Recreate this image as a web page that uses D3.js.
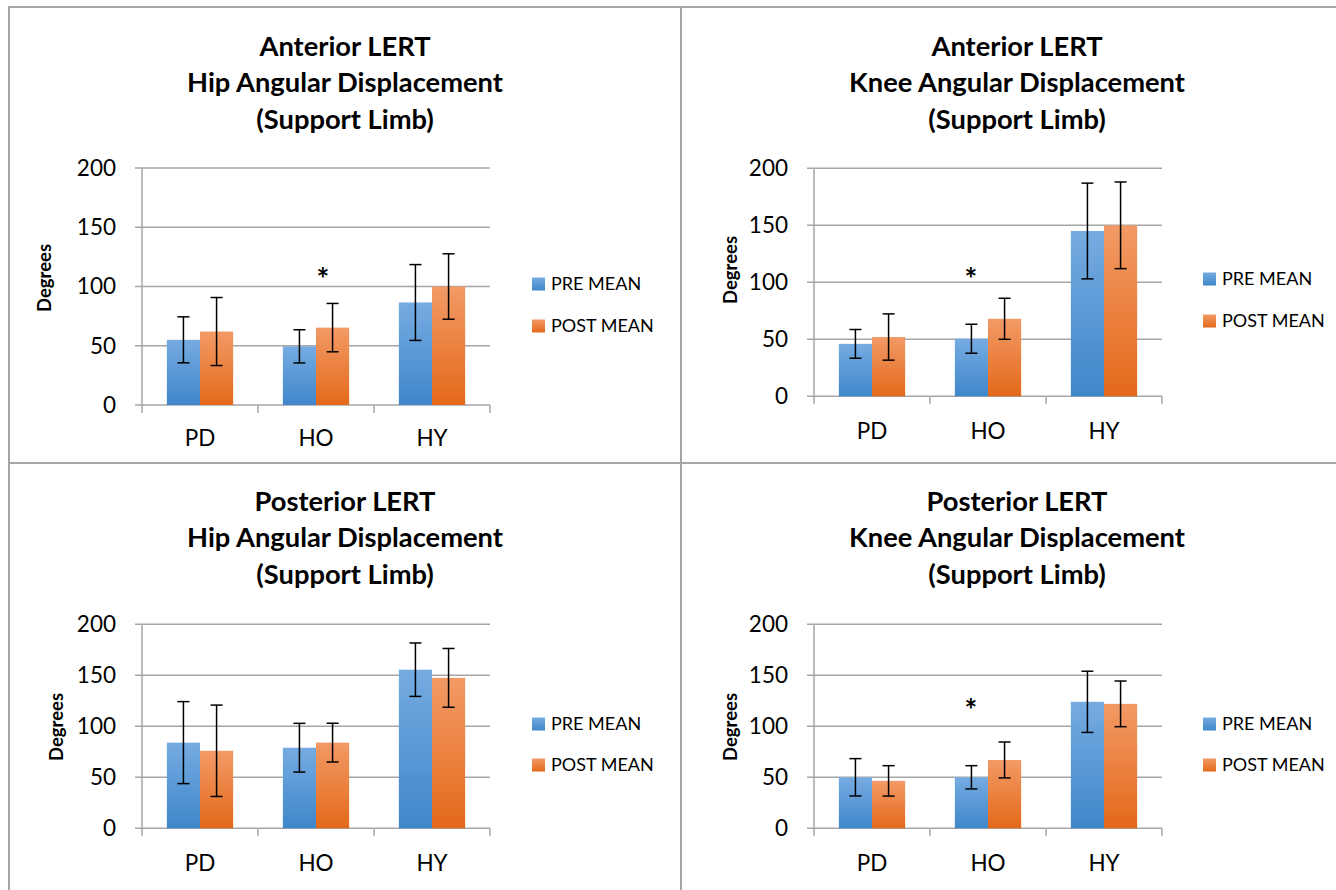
<!DOCTYPE html>
<html>
<head>
<meta charset="utf-8">
<script src="https://cdn.jsdelivr.net/npm/d3@7"></script>
<style>
  body { margin: 0; background: #fff; }
  svg { display: block; font-family: Lato, "Open Sans", sans-serif; }
</style>
</head>
<body>
<svg id="chart" width="1336" height="890"></svg>
<script>
// data
const categories = ["PD", "HO", "HY"];
const seriesNames = ["PRE MEAN", "POST MEAN"];
const yTicks = [0, 50, 100, 150, 200];

const antHipTitle = ["Anterior LERT", "Hip Angular Displacement", "(Support Limb)"];
const antHipPre = [55, 49.5, 86.5];
const antHipPreErr = [19.4, 14, 32];
const antHipPost = [62, 65.3, 100];
const antHipPostErr = [28.7, 20.4, 27.6];
const antHipStar = 113;

const antKneeTitle = ["Anterior LERT", "Knee Angular Displacement", "(Support Limb)"];
const antKneePre = [46, 50.5, 145];
const antKneePreErr = [12.6, 12.7, 42];
const antKneePost = [52, 68, 150];
const antKneePostErr = [20.3, 18, 38];
const antKneeStar = 110;

const postHipTitle = ["Posterior LERT", "Hip Angular Displacement", "(Support Limb)"];
const postHipPre = [84, 79, 155.5];
const postHipPreErr = [40.2, 23.9, 26.2];
const postHipPost = [76, 84, 147.5];
const postHipPostErr = [44.8, 19, 28.8];
const postHipStar = null;

const postKneeTitle = ["Posterior LERT", "Knee Angular Displacement", "(Support Limb)"];
const postKneePre = [50, 50, 124];
const postKneePreErr = [18.3, 11.4, 30];
const postKneePost = [46.5, 67, 122];
const postKneePostErr = [14.9, 17.6, 22.4];
const postKneeStar = 123;

const GRID = "#a6a6a6";
const svg = d3.select("#chart");

// gradient fills like the Excel bars
const defs = svg.append("defs");
[["blueGrad", "#76abe1", "#3f87ca"], ["orangeGrad", "#f29a66", "#e4691a"]].forEach(([id, top, bottom]) => {
  const g = defs.append("linearGradient").attr("id", id)
    .attr("x1", 0).attr("y1", 0).attr("x2", 0).attr("y2", 1);
  g.append("stop").attr("offset", "0%").attr("stop-color", top);
  g.append("stop").attr("offset", "100%").attr("stop-color", bottom);
});
const fills = ["url(#blueGrad)", "url(#orangeGrad)"];

// panel frame lines
svg.append("line").attr("x1", 9).attr("x2", 9).attr("y1", 7).attr("y2", 890)
  .attr("stroke", GRID).attr("stroke-width", 2);
svg.append("line").attr("x1", 8).attr("x2", 1336).attr("y1", 7).attr("y2", 7)
  .attr("stroke", GRID).attr("stroke-width", 2);
svg.append("line").attr("x1", 681).attr("x2", 681).attr("y1", 7).attr("y2", 890)
  .attr("stroke", GRID).attr("stroke-width", 2);
svg.append("line").attr("x1", 8).attr("x2", 1336).attr("y1", 463).attr("y2", 463)
  .attr("stroke", GRID).attr("stroke-width", 2);

const panels = [
  { title: antHipTitle, pre: antHipPre, preErr: antHipPreErr, post: antHipPost, postErr: antHipPostErr, star: antHipStar,
    titleX: 345, titleY: 46, x0: 142, x1: 490, yTop: 168, yBottom: 405, ylabX: 45, ylabY: 278,
    catY: 438, legX: 532, legY: [284, 326], starDx: 7 },
  { title: antKneeTitle, pre: antKneePre, preErr: antKneePreErr, post: antKneePost, postErr: antKneePostErr, star: antKneeStar,
    titleX: 1017, titleY: 46, x0: 814, x1: 1162, yTop: 168.3, yBottom: 396.3, ylabX: 731, ylabY: 270,
    catY: 431, legX: 1203, legY: [279, 321], starDx: -17 },
  { title: postHipTitle, pre: postHipPre, preErr: postHipPreErr, post: postHipPost, postErr: postHipPostErr, star: postHipStar,
    titleX: 345, titleY: 501, x0: 142, x1: 490, yTop: 624.3, yBottom: 828.3, ylabX: 57, ylabY: 727,
    catY: 863, legX: 532, legY: [724, 765], starDx: 0 },
  { title: postKneeTitle, pre: postKneePre, preErr: postKneePreErr, post: postKneePost, postErr: postKneePostErr, star: postKneeStar,
    titleX: 1017, titleY: 501, x0: 814, x1: 1162, yTop: 624.3, yBottom: 828.3, ylabX: 731, ylabY: 727,
    catY: 863, legX: 1203, legY: [724, 765], starDx: -17 }
];

panels.forEach(drawPanel);

function drawPanel(p) {
  const g = svg.append("g");

  // title, three lines
  g.append("text")
    .attr("x", p.titleX).attr("y", p.titleY)
    .attr("text-anchor", "middle").attr("font-weight", "bold").attr("font-size", 27.3)
    .attr("fill", "#000")
    .selectAll("tspan").data(p.title).enter().append("tspan")
    .attr("x", p.titleX).attr("dy", (d, i) => i === 0 ? "0.35em" : 36.5)
    .text(d => d);

  const x = d3.scaleBand().domain(categories).range([p.x0, p.x1]);
  const barW = x.bandwidth() / 3.5;
  const xs = d3.scaleBand().domain(seriesNames)
    .range([barW * 0.75, barW * 2.75]);
  const y = d3.scaleLinear().domain([0, 200]).range([p.yBottom, p.yTop]);

  // gridlines
  g.selectAll(".grid").data(yTicks).enter().append("line")
    .attr("x1", p.x0 - 7).attr("x2", p.x1)
    .attr("y1", d => y(d)).attr("y2", d => y(d))
    .attr("stroke", GRID).attr("stroke-width", 1.5);

  // y axis line and labels
  g.append("line").attr("x1", p.x0).attr("x2", p.x0)
    .attr("y1", p.yTop).attr("y2", p.yBottom)
    .attr("stroke", GRID).attr("stroke-width", 1.5);
  g.selectAll(".ytick").data(yTicks).enter().append("text")
    .attr("x", p.x0 - 26).attr("y", d => y(d)).attr("dy", "0.35em")
    .attr("text-anchor", "end").attr("font-size", 22.5).attr("fill", "#000")
    .text(d => d);

  // x axis tick marks on the category boundaries
  const bounds = categories.map(c => x(c)).concat([p.x1]);
  g.selectAll(".xtick").data(bounds).enter().append("line")
    .attr("x1", d => d).attr("x2", d => d)
    .attr("y1", p.yBottom).attr("y2", p.yBottom + 8)
    .attr("stroke", GRID).attr("stroke-width", 1.5);
  g.selectAll(".xlab").data(categories).enter().append("text")
    .attr("x", d => x(d) + x.bandwidth() / 2).attr("y", p.catY).attr("dy", "0.35em")
    .attr("text-anchor", "middle").attr("font-size", 22.5).attr("fill", "#000")
    .text(d => d);

  // y axis title
  g.append("text")
    .attr("transform", `translate(${p.ylabX},${p.ylabY}) rotate(-90)`)
    .attr("dy", "0.35em").attr("text-anchor", "middle")
    .attr("font-weight", "bold").attr("font-size", 18.5).attr("fill", "#000")
    .text("Degrees");

  // bars and error bars
  const rows = [];
  categories.forEach((c, i) => {
    rows.push({ cat: c, s: seriesNames[0], v: p.pre[i], e: p.preErr[i], k: 0 });
    rows.push({ cat: c, s: seriesNames[1], v: p.post[i], e: p.postErr[i], k: 1 });
  });

  g.selectAll(".bar").data(rows).enter().append("rect")
    .attr("x", d => x(d.cat) + xs(d.s))
    .attr("width", xs.bandwidth())
    .attr("y", d => y(d.v))
    .attr("height", d => y(0) - y(d.v))
    .attr("fill", d => fills[d.k]);

  const err = g.selectAll(".err").data(rows).enter().append("g")
    .attr("stroke", "#000").attr("stroke-width", 1.5);
  const cx = d => x(d.cat) + xs(d.s) + xs.bandwidth() / 2;
  err.append("line")
    .attr("x1", cx).attr("x2", cx)
    .attr("y1", d => y(d.v + d.e)).attr("y2", d => y(d.v - d.e));
  err.append("line")
    .attr("x1", d => cx(d) - 6).attr("x2", d => cx(d) + 6)
    .attr("y1", d => y(d.v + d.e)).attr("y2", d => y(d.v + d.e));
  err.append("line")
    .attr("x1", d => cx(d) - 6).attr("x2", d => cx(d) + 6)
    .attr("y1", d => y(d.v - d.e)).attr("y2", d => y(d.v - d.e));

  // significance marker
  if (p.star !== null) {
    g.append("text")
      .attr("x", x("HO") + x.bandwidth() / 2 + p.starDx).attr("y", y(p.star))
      .attr("dy", "0.62em").attr("text-anchor", "middle")
      .attr("font-weight", "bold").attr("font-size", 30).attr("fill", "#000")
      .text("*");
  }

  // legend
  const leg = g.selectAll(".leg").data(seriesNames).enter().append("g")
    .attr("transform", (d, i) => `translate(${p.legX},${p.legY[i]})`);
  leg.append("rect").attr("x", 0).attr("y", -6.5).attr("width", 13).attr("height", 13)
    .attr("fill", (d, i) => fills[i]);
  leg.append("text").attr("x", 19).attr("dy", "0.35em")
    .attr("font-size", 18).attr("fill", "#000")
    .text(d => d);
}
</script>
</body>
</html>
